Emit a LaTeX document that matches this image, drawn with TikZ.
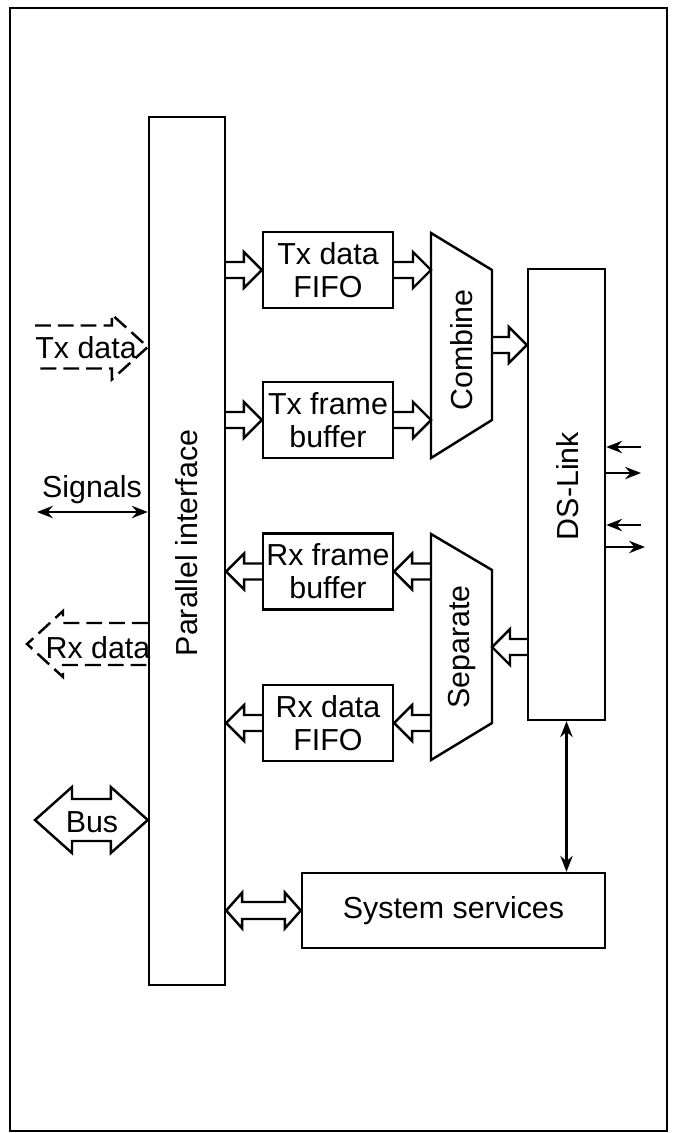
\documentclass[tikz,border=0pt]{standalone}
\usepackage{fontspec}
\setmainfont{Liberation Sans}
\usetikzlibrary{calc,arrows.meta}

% hollow arrow: [style]{shaft}{head}{head length, signed}{from}{to}
\newcommand\fatarrow[6][]{%
	\draw[#1] ($(#5)+(0,-#2)$) -- ($(#6)+({-(#4)},-#2)$) -- ($(#6)+({-(#4)},-#3)$)
	-- (#6) -- ($(#6)+({-(#4)},#3)$) -- ($(#6)+({-(#4)},#2)$) -- ($(#5)+(0,#2)$);}
% hollow double arrow: {shaft}{head}{head length}{left tip}{right tip}
\newcommand\dblfat[5]{%
	\draw (#4) -- ($(#4)+(#3,-#2)$) -- ($(#4)+(#3,-#1)$) -- ($(#5)+(-#3,-#1)$)
	-- ($(#5)+(-#3,-#2)$) -- (#5) -- ($(#5)+(-#3,#2)$) -- ($(#5)+(-#3,#1)$)
	-- ($(#4)+(#3,#1)$) -- ($(#4)+(#3,#2)$) -- cycle;}

\begin{document}
\begin{tikzpicture}[x=0.02cm,y=-0.02cm,line width=1.4pt,
	font=\fontsize{17.3}{18.7}\selectfont,
	box/.style={draw,inner sep=0pt,align=center,minimum width=2.6cm,minimum height=1.52cm},
	lbl/.style={inner sep=0pt,rotate=90},
	pin/.style={-{Stealth[length=9pt,width=7pt]}},
	pins/.style={{Stealth[length=9pt,width=7pt]}-{Stealth[length=9pt,width=7pt]}},
	dsh/.style={dash pattern=on 9pt off 4pt}]
	\useasboundingbox (0,0) rectangle (675,1133);
	%\draw[help lines,step=50] (0,0) grid (675,1133);

	\draw (10,8) rectangle (667,1131);

	\path
	coordinate (cmbL) at (431,233)
	coordinate (cmbo) at (492,345)
	coordinate (sepL) at (431,534)
	coordinate (sepi) at (492,647)
	coordinate (txs) at (35,347)
	coordinate (rxs) at (27,644)
	coordinate (sig) at (37,512)
	coordinate (busl) at (35,820)
	coordinate (ln1) at (641,447)
	coordinate (ln2) at (641,473)
	coordinate (ln3) at (641,525)
	coordinate (ln4) at (645,547)
	;

	% blocks
	\node[box,minimum width=1.52cm,minimum height=17.36cm] (pif) at (187,551) {};
	\node[lbl] (pifl) at (187,543) {Parallel interface};
	\node[box] (txf) at (328,270) {Tx data\\FIFO};
	\node[box] (txb) at (328,420) {Tx frame\\buffer};
	\node[box] (rxb) at (328,571.5) {Rx frame\\buffer};
	\node[box] (rxf) at (328,723) {Rx data\\FIFO};
	\node[box,minimum width=1.54cm,minimum height=9.02cm] (dsl) at (566.5,494.5) {};
	\node[lbl] (dsll) at (568,486) {DS-Link};
	\node[box,minimum width=6.06cm,minimum height=1.5cm] (sys) at (453.5,910.5) {System services};

	% combine / separate
	\draw (cmbL) -- (492,270) -- (492,420) -- (431,458) -- cycle;
	\node[lbl] (cmb) at (462,350) {Combine};
	\draw (sepL) -- (492,570) -- (492,723) -- (431,760) -- cycle;
	\node[lbl] (sep) at (462,647) {Separate};

	% data paths
	\fatarrow{8}{18}{18}{txf.west -| pif.east}{txf.west}
	\fatarrow{8}{18}{18}{txb.west -| pif.east}{txb.west}
	\fatarrow{8}{18}{18}{txf.east}{txf.east -| cmbL}
	\fatarrow{8}{18}{18}{txb.east}{txb.east -| cmbL}
	\fatarrow{8}{18}{18}{cmbo}{cmbo -| dsl.west}
	\fatarrow{8}{18}{-18}{sepi -| dsl.west}{sepi}
	\fatarrow{8}{18}{-18}{rxb.east -| sepL}{rxb.east}
	\fatarrow{8}{18}{-18}{rxf.east -| sepL}{rxf.east}
	\fatarrow{8}{18}{-18}{rxb.west}{rxb.west -| pif.east}
	\fatarrow{8}{18}{-18}{rxf.west}{rxf.west -| pif.east}
	\dblfat{8.5}{18}{16}{sys.west -| pif.east}{sys.west}

	% outside
	\fatarrow[dsh]{21.5}{32.5}{36}{txs}{txs -| pif.west}
	\node (txl) at (86,348) {Tx data};
	\fatarrow[dsh]{21}{33}{-36}{rxs -| pif.west}{rxs}
	\node (rxl) at (98,648) {Rx data};
	\draw[pins] (sig) -- (sig -| pif.west);
	\node (sigl) at (92,490) {Signals};
	\dblfat{21}{33}{37}{busl}{busl -| pif.west}
	\node (busn) at (92,822) {Bus};

	% link lines
	\draw[pins] (dsl.south) -- (dsl.south |- sys.north);
	\draw[pin] (ln1) -- (ln1 -| dsl.east);
	\draw[pin] (ln2 -| dsl.east) -- (ln2);
	\draw[pin] (ln3) -- (ln3 -| dsl.east);
	\draw[pin] (ln4 -| dsl.east) -- (ln4);

\end{tikzpicture}
\end{document}
